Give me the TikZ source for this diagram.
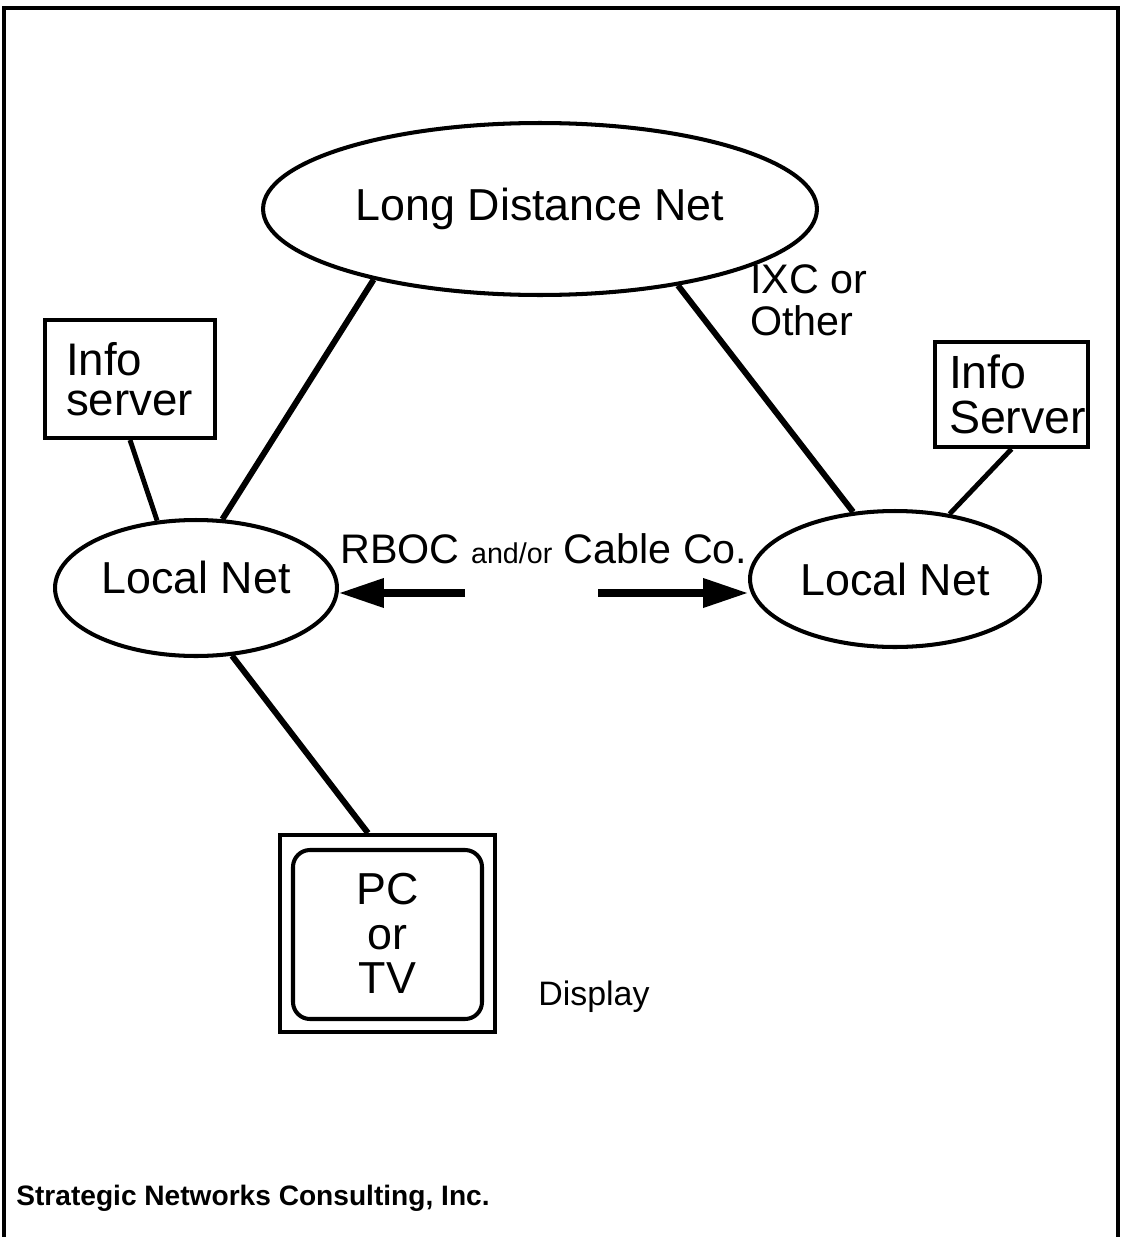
\documentclass[tikz,border=0pt]{standalone}
\usepackage{fontspec}
\setmainfont{Liberation Sans}
\usetikzlibrary{shapes.geometric,arrows.meta}

\begin{document}
\begin{tikzpicture}[x=0.02cm,y=-0.02cm,every node/.style={inner sep=0pt},
	net/.style={draw, ellipse, line width=2.3pt, font=\fontsize{25.5}{30}\selectfont},
	box/.style={draw, rectangle, line width=2.3pt},
	link/.style={line width=3.4pt},
	thinlink/.style={line width=2.8pt},
	bigarrow/.style={line width=4pt, -{Triangle[length=0.9cm,width=0.56cm]}},
	netlabel/.style={font=\fontsize{23.5}{23.8}\selectfont},
	frame/.style={line width=2pt}]
	\useasboundingbox (0,0) rectangle (1121,1237);
	\draw[frame] (4,1237) -- (4,8) -- (1118,8) -- (1118,1237);

	% Specification of nodes (position, etc.)
	\node (ld)			[net, minimum width=11.08cm, minimum height=3.44cm]
																							at (540,209)	{Long Distance Net};
	\node (localL)	[net, minimum width=5.64cm, minimum height=2.72cm,
								text height=18.5pt, text depth=12.8pt]	at (196,588)	{Local Net};
	\node (localR)	[net, minimum width=5.8cm, minimum height=2.72cm]
																							at (895,579)	{Local Net};
	\node (infoL)		[box, align=left, minimum width=3.4cm, minimum height=2.36cm,
								inner xsep=0.42cm, text width=2.56cm,
								font=\fontsize{26}{23}\selectfont]			at (130,379)	{Info\\server};
	\node (infoR)		[box, align=left, minimum width=3.06cm, minimum height=2.1cm,
								inner xsep=0.28cm, text width=2.5cm,
								font=\fontsize{26.5}{25.5}\selectfont]	at (1011.5,394.5)	{Info\\Server};
	\node (pc)			[box, align=center, minimum width=4.3cm, minimum height=3.94cm,
								font=\fontsize{25.5}{25.5}\selectfont]	at (387.5,933.5)	{PC\\or\\TV};
	\node (ixc)			[netlabel, anchor=west, align=left]			at (750,300)	{IXC or\\Other};
	\node (carrier)	[netlabel, anchor=base west]						at (340,563)
																							{RBOC {\fontsize{16.3}{18}\selectfont and/or} Cable Co.};
	\node (display)	[anchor=base west, font=\fontsize{19.3}{23}\selectfont]
																							at (538,1005)	{Display};
	\node (firm)		[anchor=base west, font=\bfseries\fontsize{16}{19}\selectfont]
																							at (16,1205)	{Strategic Networks Consulting, Inc.};
	\coordinate (arrL) at (465,593);
	\coordinate (arrR) at (598,593);

	% screen inside the display
	\draw[line width=2.3pt, rounded corners=0.34cm]
		([xshift=0.3cm,yshift=-0.34cm]pc.north west) rectangle ([xshift=-0.3cm,yshift=0.3cm]pc.south east);

	% Specification of lines between nodes specified above
	\draw[link]			(ld.203.2) -- (localL.69.1);
	\draw[link]			(ld.331.8) -- (localR.122);
	\draw[link]			(localL.298.9) -- (pc.101);
	\draw[thinlink]	(infoL.south) -- (localL.120.6);
	\draw[thinlink]	(infoR.south) -- (localR.50);
	\draw[bigarrow]	(arrL) -- (arrL -| localL.east);
	\draw[bigarrow]	(arrR) -- (arrR -| localR.west);
\end{tikzpicture}
\end{document}
